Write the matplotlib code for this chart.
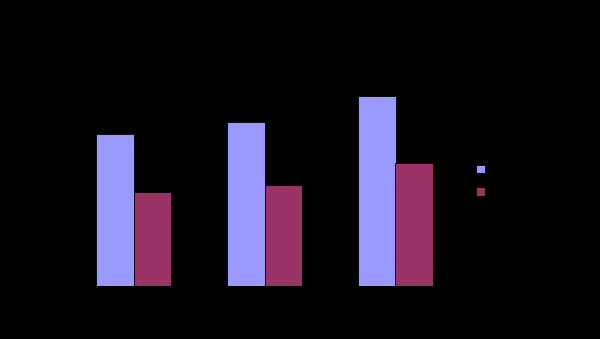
import numpy as np
import matplotlib.pyplot as plt

categories = ['1', '2', '3']
series1 = [15.2, 16.4, 19.0]
series2 = [9.4, 10.1, 12.3]
names = ['Series 1', 'Series 2']

fig = plt.figure(figsize=(6, 3.39), dpi=100, facecolor='black')
ax = fig.add_axes([68/600, 53/339, 393/600, 250/339], facecolor='black')

x = np.arange(len(categories))
w = 0.286
ax.bar(x - w/2, series1, w, color='#9999FF', edgecolor='black', linewidth=0.6, label=names[0])
ax.bar(x + w/2, series2, w, color='#993366', edgecolor='black', linewidth=0.6, label=names[1])

ax.set_xlim(-0.5, 2.5)
ax.set_ylim(0, 25)
ax.set_xticks(x)
ax.set_xticklabels(categories, color='black')
ax.tick_params(colors='black', length=0)
for s in ax.spines.values():
    s.set_visible(False)

fig.legend(loc='center left', bbox_to_anchor=(465/600, 1 - 181/339), frameon=False,
           handlelength=0.7, handleheight=0.7, labelspacing=0.75, fontsize=9,
           labelcolor='black')

fig.savefig('out.png', facecolor='black')
